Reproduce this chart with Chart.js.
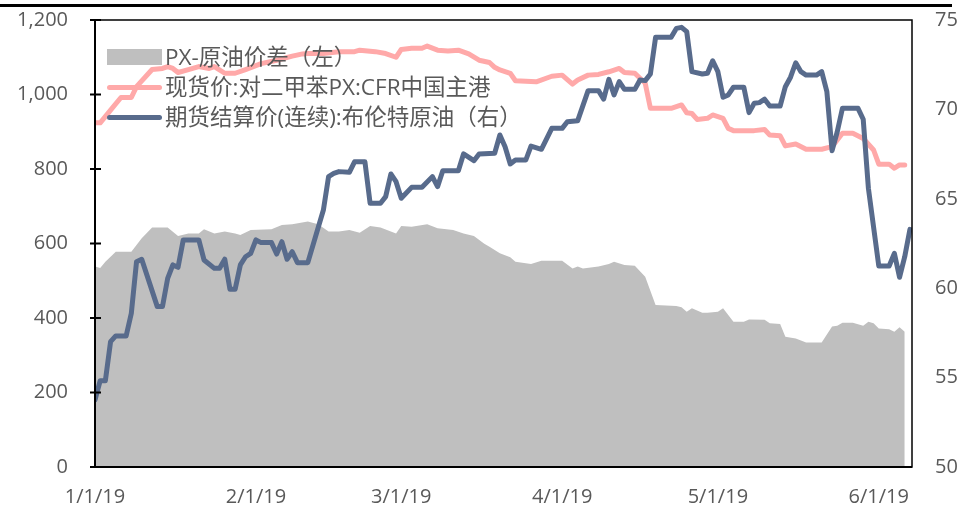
<!DOCTYPE html>
<html>
<head>
<meta charset="utf-8">
<script src="https://cdn.jsdelivr.net/npm/chart.js@4/dist/chart.umd.min.js"></script>
<style>
  body { margin: 0; background: #fff; }
  #wrap { position: relative; width: 960px; height: 505px; overflow: hidden; }
  #myChart { display: block; }
  #topline { position: absolute; left: 0; top: 4px; width: 952px; height: 3px; background: #000; }
  #legend { position: absolute; left: 107px; top: 42px; font-family: "Open Sans", "Noto Sans CJK SC", sans-serif; font-size: 22.5px; color: #595959; }
  .row { display: flex; align-items: center; height: 30px; line-height: 30px; white-space: nowrap; }
  .sym { width: 55px; margin-right: 3px; flex: none; }
</style>
</head>
<body>
<div id="wrap">
  <canvas id="myChart" width="960" height="505"></canvas>
  <div id="topline"></div>
  <div id="legend"></div>
</div>
<script>
// x 값 = 2019-01-01 기준 경과일
const monthTicks = [0, 31, 59, 90, 120, 151];
const monthLabels = ['1/1/19', '2/1/19', '3/1/19', '4/1/19', '5/1/19', '6/1/19'];

const names = ['PX-原油价差（左）', '现货价:对二甲苯PX:CFR中国主港', '期货结算价(连续):布伦特原油（右）'];

const spreadDays = [0,1,2,4,7,9,11,14,16,18,20,21,23,25,27,28,30,34,36,38,41,43,45,47,49,51,53,55,58,59,61,64,66,69,71,73,75,76,78,80,81,84,86,90,92,93,94,97,99,100,102,104,106,108,112,113,114,115,117,118,120,121,123,125,126,129,130,132,133,135,137,140,142,143,144,146,148,149,150,151,153,154,155,156];
const spreadValues = [538,534,551,578,578,614,643,643,620,627,627,638,627,632,627,623,636,638,650,652,659,652,632,632,636,629,647,643,627,647,645,652,641,636,627,620,599,591,574,563,551,545,554,554,533,538,533,538,545,551,542,540,511,435,432,429,417,426,414,414,417,426,390,390,396,395,386,384,350,345,334,334,377,379,387,387,379,390,386,372,370,363,375,363];

const spotDays = [0,1,3,5,7,8,11,13,14,15,16,18,20,22,23,25,27,29,32,35,38,40,41,44,47,50,51,54,56,58,59,61,63,64,66,68,70,72,74,76,77,78,80,81,85,88,90,92,93,95,97,99,101,102,104,106,107,111,113,114,115,116,118,119,121,122,123,127,129,130,132,133,135,137,140,142,144,146,148,150,151,153,154,155,156];
const spotValues = [924,924,958,992,992,1021,1067,1070,1075,1070,1059,1067,1075,1070,1075,1057,1057,1067,1083,1092,1103,1109,1110,1110,1115,1115,1119,1115,1110,1100,1121,1124,1124,1130,1119,1117,1119,1109,1092,1086,1073,1066,1057,1037,1034,1049,1052,1028,1039,1052,1054,1061,1070,1059,1057,1030,963,963,972,951,949,933,936,945,936,909,903,903,906,891,889,862,867,853,853,860,896,896,882,851,813,813,802,811,811];

const brentDays = [0,1,2,3,4,6,7,8,9,12,13,14,15,16,17,20,21,23,24,25,26,27,28,29,30,31,32,34,35,36,37,38,39,41,44,45,46,47,49,50,52,53,55,56,57,58,59,61,63,65,66,67,70,71,73,74,77,78,79,80,81,83,84,86,88,90,91,93,95,97,98,99,100,101,102,104,105,106,107,108,111,112,113,114,115,117,118,119,120,121,122,123,125,126,127,128,129,130,132,133,134,135,136,137,139,140,141,142,143,144,147,148,149,151,153,154,155,156,157];
const brentValues = [53.75,54.83,54.83,57.01,57.33,57.33,58.60,61.48,61.62,58.97,58.97,60.55,61.30,61.17,62.70,62.70,61.58,61.11,61.11,61.62,59.94,59.94,61.30,61.76,61.95,62.70,62.55,62.55,61.91,62.60,61.62,62.04,61.43,61.43,64.37,66.24,66.42,66.52,66.48,67.07,67.07,64.75,64.75,65.12,66.39,65.96,65.03,65.64,65.64,66.24,65.68,66.57,66.57,67.51,67.13,67.51,67.55,68.57,67.91,66.95,67.17,67.17,67.95,67.77,68.94,68.94,69.31,69.37,71.05,71.05,70.57,71.68,70.81,71.55,71.12,71.12,71.64,71.61,71.98,74.03,74.03,74.53,74.59,74.35,72.11,71.98,72.02,72.72,72.11,70.68,70.81,71.24,71.24,69.82,70.34,70.38,70.57,70.19,70.19,71.27,71.80,72.61,72.11,71.92,71.92,72.11,70.99,67.69,68.75,70.06,70.06,69.45,65.59,61.24,61.24,61.95,60.61,61.76,63.29];

const colors = ['#bfbfbf', '#ffa9a9', '#586b8c'];

const pts = (xs, ys) => xs.map((x, i) => ({ x: x, y: ys[i] }));

const tickFont = { family: '"Open Sans", sans-serif', size: 20 };
const tickColor = '#595959';

// 테두리 + 왼쪽 눈금
const frame = {
  id: 'frame',
  afterDatasetsDraw(chart) {
    const { ctx, chartArea: a, scales } = chart;
    ctx.save();
    ctx.strokeStyle = '#000';
    ctx.lineWidth = 1.5;
    ctx.strokeRect(a.left, a.top, a.right - a.left, a.bottom - a.top);
    ctx.lineWidth = 2;
    ctx.beginPath();
    ctx.moveTo(a.left, a.top);
    ctx.lineTo(a.left, a.bottom);
    ctx.lineTo(a.right, a.bottom);
    scales.y.ticks.forEach(t => {
      const py = scales.y.getPixelForValue(t.value);
      ctx.moveTo(a.left - 5, py);
      ctx.lineTo(a.left + 6, py);
    });
    ctx.stroke();
    ctx.restore();
  }
};

// 세로축 라벨 여백이 그림 영역을 밀지 않도록
const noPad = (w) => (s) => { s.width = w; s.paddingTop = 0; s.paddingBottom = 0; };

const chart = new Chart(document.getElementById('myChart'), {
  type: 'line',
  data: {
    datasets: [{
      label: names[0],
      data: pts(spreadDays, spreadValues),
      yAxisID: 'y',
      backgroundColor: colors[0],
      borderColor: 'rgba(0,0,0,0)',
      borderWidth: 0,
      fill: 'origin',
      pointRadius: 0,
      order: 3
    }, {
      label: names[1],
      data: pts(spotDays, spotValues),
      yAxisID: 'y',
      borderColor: colors[1],
      borderWidth: 5,
      fill: false,
      pointRadius: 0,
      borderJoinStyle: 'round',
      borderCapStyle: 'round',
      order: 2
    }, {
      label: names[2],
      data: pts(brentDays, brentValues),
      yAxisID: 'y1',
      borderColor: colors[2],
      borderWidth: 5,
      fill: false,
      pointRadius: 0,
      borderJoinStyle: 'round',
      borderCapStyle: 'round',
      order: 1
    }]
  },
  options: {
    responsive: false,
    animation: false,
    devicePixelRatio: 1,
    layout: { padding: { top: 20, left: 0, right: 0, bottom: 0 } },
    plugins: {
      legend: { display: false },
      tooltip: { enabled: false }
    },
    scales: {
      x: {
        type: 'linear',
        min: 0,
        max: 157.4,
        grid: { display: false },
        border: { display: false },
        afterBuildTicks: s => { s.ticks = monthTicks.map(v => ({ value: v })); },
        afterFit: s => { s.height = 38; s.paddingLeft = 0; s.paddingRight = 0; },
        ticks: {
          padding: 10,
          maxRotation: 0,
          autoSkip: false,
          font: tickFont,
          color: tickColor,
          callback: v => monthLabels[monthTicks.indexOf(v)]
        }
      },
      y: {
        position: 'left',
        min: 0,
        max: 1200,
        grid: { display: false },
        border: { display: false },
        afterFit: noPad(95),
        ticks: { stepSize: 200, padding: 19, font: tickFont, color: tickColor }
      },
      y1: {
        position: 'right',
        min: 50,
        max: 75,
        grid: { display: false },
        border: { display: false },
        afterFit: noPad(48),
        ticks: { stepSize: 5, padding: 15, font: tickFont, color: tickColor }
      }
    }
  },
  plugins: [frame]
});

// 범례 (그림 안쪽 왼쪽 위)
const legend = document.getElementById('legend');
chart.data.datasets.forEach((ds, i) => {
  const row = document.createElement('div');
  row.className = 'row';
  const sym = document.createElement('span');
  sym.className = 'sym';
  if (i === 0) {
    sym.style.height = '16px';
    sym.style.background = colors[0];
  } else {
    sym.style.height = '5px';
    sym.style.borderRadius = '3px';
    sym.style.background = colors[i];
  }
  const txt = document.createElement('span');
  txt.textContent = ds.label;
  row.append(sym, txt);
  legend.append(row);
});
</script>
</body>
</html>
